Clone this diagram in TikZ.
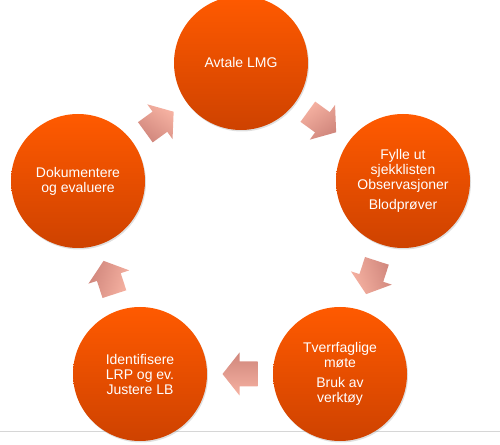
\documentclass[tikz,border=0pt]{standalone}
\usepackage{fontspec}
\setmainfont{Liberation Sans}
\usetikzlibrary{positioning,calc,shadows}
\definecolor{stageTop}{RGB}{255,90,0}
\definecolor{stageBottom}{RGB}{206,66,0}
\definecolor{arrowTop}{RGB}{246,178,162}
\definecolor{arrowBottom}{RGB}{208,134,124}
\definecolor{rule}{RGB}{214,214,214}

\tikzset{
  stage/.style={circle, minimum size=134pt, inner sep=0pt,
    top color=stageTop, bottom color=stageBottom, text=white,
    font=\fontsize{14}{15}\selectfont, align=center,
    drop shadow={shadow xshift=1pt, shadow yshift=-1.5pt, opacity=0.25}},
  flow/.style={top color=arrowTop, bottom color=arrowBottom}
}

\begin{document}
\begin{tikzpicture}[x=1pt, y=1pt]
  \useasboundingbox (0,0) rectangle (500,444);
  \coordinate (ruleL) at (0,13);
  \coordinate (ruleR) at (500,13);
  \draw [rule, line width=1pt] (ruleL) -- (ruleR);

  \node (avt) [stage] at (241,381) {Avtale LMG};
  \node (fyl) [stage] at (403,263) {Fylle ut\\sjekklisten\\Observasjoner\\[5pt]Blodprøver};
  \node (tve) [stage] at (340,70) {Tverrfaglige\\møte\\[5pt]Bruk av\\verktøy};
  \node (ide) [stage] at (140,70) {Identifisere\\LRP og ev.\\Justere LB};
  \node (dok) [stage] at (78,263) {Dokumentere\\og evaluere};

  % block arrows between the stages
  \foreach \a/\b/\ang in {dok/avt/36, avt/fyl/-36, fyl/tve/-108, tve/ide/180, ide/dok/108}
    \shade [flow, shift={($(\a)!0.5!(\b)$)}, rotate=\ang, shading angle=-\ang]
      (-17.5,-12.5) -- (0.5,-12.5) -- (0.5,-21.5) -- (17.5,0)
      -- (0.5,21.5) -- (0.5,12.5) -- (-17.5,12.5) -- cycle;
\end{tikzpicture}
\end{document}
